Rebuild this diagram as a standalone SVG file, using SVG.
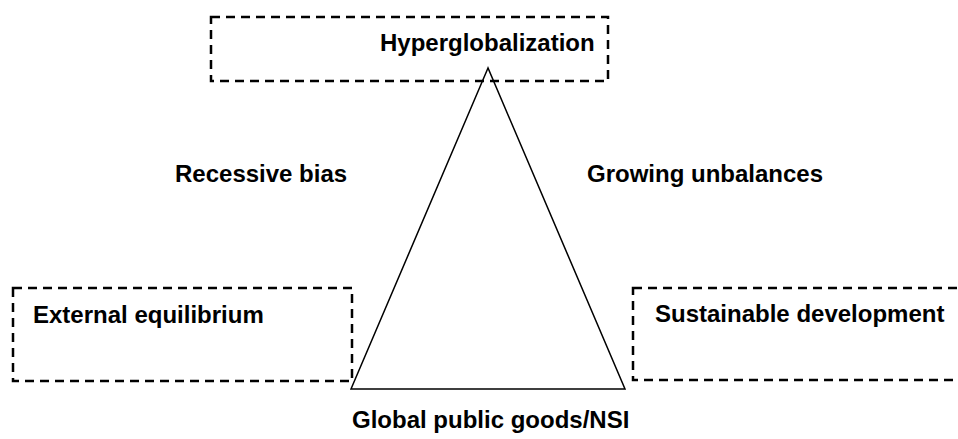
<svg xmlns="http://www.w3.org/2000/svg" width="958" height="439" viewBox="0 0 958 439">
<style>
.box{fill:none;stroke:#000;stroke-width:2.5;stroke-dasharray:9 6}
.lbl{font-family:"Liberation Sans",Arial,sans-serif;font-weight:bold;font-size:24px;fill:#000}
.tri{fill:none;stroke:#000;stroke-width:1.5;stroke-linejoin:miter}
</style>
<rect width="958" height="439" fill="#fff"/>
<g id="connectors">
<polygon class="tri" points="488,68 351,389 625,389"/>
</g>
<g id="hyperglobalization">
<rect class="box" x="211" y="17" width="397" height="64"/>
<text class="lbl" x="380" y="51">Hyperglobalization</text>
</g>
<g id="external-equilibrium">
<rect class="box" x="13" y="288" width="339" height="93"/>
<text class="lbl" x="33" y="323">External equilibrium</text>
</g>
<g id="sustainable-development">
<rect class="box" x="633" y="288" width="339" height="92"/>
<text class="lbl" x="655" y="322">Sustainable development</text>
</g>
<g id="recessive-bias">
<text class="lbl" x="175" y="182">Recessive bias</text>
</g>
<g id="growing-unbalances">
<text class="lbl" x="587" y="182">Growing unbalances</text>
</g>
<g id="global-public-goods">
<text class="lbl" x="352" y="428">Global public goods/NSI</text>
</g>
</svg>
